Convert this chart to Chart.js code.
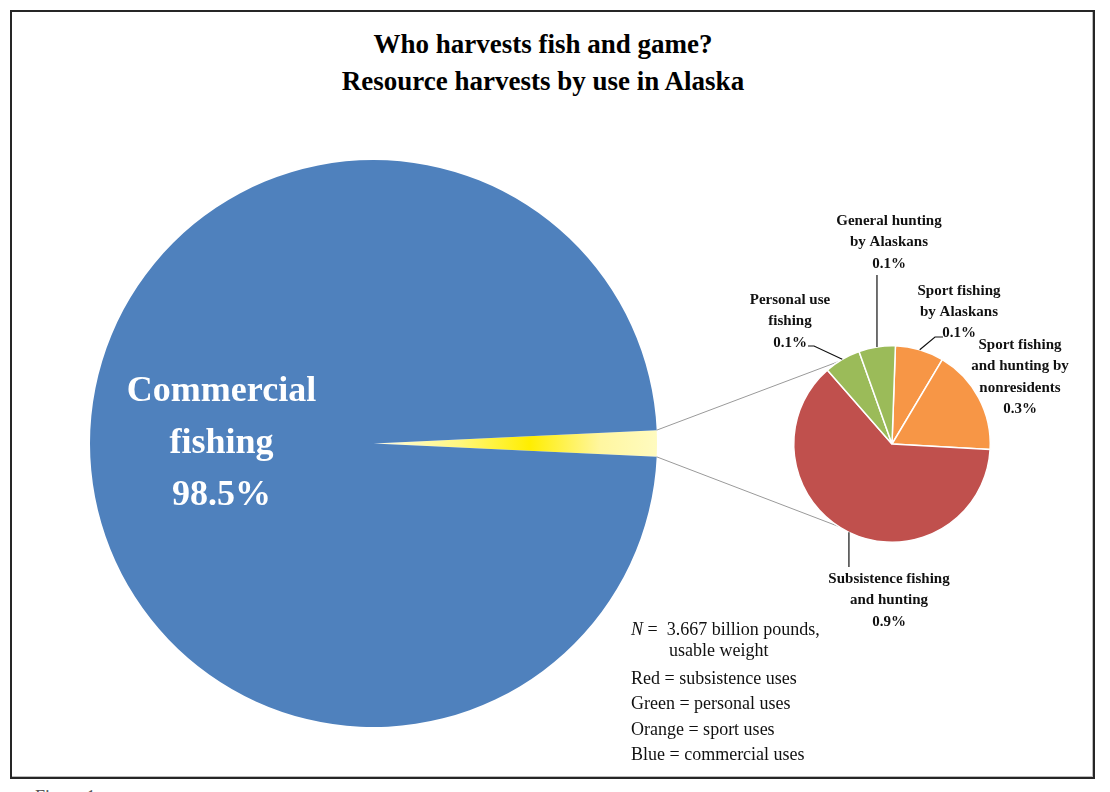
<!DOCTYPE html>
<html>
<head>
<meta charset="utf-8">
<script src="https://cdn.jsdelivr.net/npm/chart.js@4.4.0/dist/chart.umd.min.js"></script>
<style>
  body { margin: 0; background: #fff; font-family: "Liberation Serif", "DejaVu Serif", serif; }
  #page { position: relative; width: 1110px; height: 792px; overflow: hidden; }
  #frame { position: absolute; left: 10px; top: 10px; width: 1081px; height: 765px; border: 2px solid #262626; box-shadow: inset -1px -1px 0 #bbb; }
  #title { position: absolute; left: 0; top: 26px; width: 1086px; text-align: center; font-weight: bold; font-size: 27px; line-height: 37px; color: #000; }
  #note { position: absolute; left: 631px; top: 618px; font-size: 18px; color: #111; }
  #note div { height: 25.3px; line-height: 22px; }
  #fig { position: absolute; left: 35px; top: 787px; font-size: 18px; color: #555; }
  canvas { position: absolute; }
</style>
</head>
<body>
<div id="page">
  <div id="frame"></div>
  <div id="title">Who harvests fish and game?<br>Resource harvests by use in Alaska</div>
  <canvas id="bigPie" width="567" height="567" style="left:90px;top:160px"></canvas>
  <canvas id="smallPie" width="450" height="440" style="left:640px;top:200px"></canvas>
  <div id="note">
    <div style="height:21px"><i>N</i> =&nbsp; 3.667 billion pounds,</div>
    <div style="padding-left:38px;height:28px">usable weight</div>
    <div>Red = subsistence uses</div>
    <div>Green = personal uses</div>
    <div>Orange = sport uses</div>
    <div>Blue = commercial uses</div>
  </div>
  <div id="fig">Figure 1.</div>
</div>
<script>
// main pie: commercial vs everything else (percent of total harvest)
const main_labels = ["Other uses", "Commercial fishing"];
const main_values = [1.5, 98.5];

// breakdown of the 1.5% (percent of total harvest)
const detail_labels = [
  ["Sport fishing", "by Alaskans"],
  ["Sport fishing", "and hunting by", "nonresidents"],
  ["Subsistence fishing", "and hunting"],
  ["Personal use", "fishing"],
  ["General hunting", "by Alaskans"]
];
const detail_values = [0.12, 0.26, 0.94, 0.09, 0.09];
const detail_colors = ["#F79646", "#F79646", "#C0504D", "#9BBB59", "#9BBB59"];

const BIG_LEFT = 90, BIG_TOP = 160, SMALL_LEFT = 640, SMALL_TOP = 200;

// label placement for the small pie, page coords (x = text centre, y = first line)
// leader: extra points after the slice mid point
var labelSpots = [
  {x: 959, y: 291, pctX: 959, pctY: 333, leader: [[935, 337], [943, 337]]},
  {x: 1020, y: 345, leader: null},
  {x: 889, y: 579, leader: "down", endY: 567},
  {x: 790, y: 300, leader: [[814, 346], [808, 346]]},
  {x: 889, y: 221, leader: "up", endY: 275}
];

function pct(v) { return v.toFixed(1) + "%"; }

// yellow wedge gets a gradient, the rest is plain blue
var mainFill = function(c) {
  if (c.dataIndex !== 0) return "#4F81BD";
  var chart = c.chart, area = chart.chartArea;
  if (!area) return "#FFF38A";
  var cx = (area.left + area.right) / 2;
  var g = chart.ctx.createLinearGradient(cx, 0, area.right, 0);
  g.addColorStop(0, "#FFFDE8");
  g.addColorStop(0.3, "#FFF780");
  g.addColorStop(0.55, "#FFEE00");
  g.addColorStop(0.8, "#FFF6A0");
  g.addColorStop(1, "#FFFBC0");
  return g;
};

var bigText = {
  id: "bigText",
  afterDatasetsDraw: function(chart) {
    var arc = chart.getDatasetMeta(0).data[1];
    var ctx = chart.ctx;
    ctx.save();
    ctx.fillStyle = "#fff";
    ctx.font = "bold 36px 'Liberation Serif'";
    ctx.textAlign = "center";
    ctx.textBaseline = "middle";
    var lines = ["Commercial", "fishing", pct(main_values[1])];
    lines.forEach(function(t, i) {
      ctx.fillText(t, arc.x - 152, arc.y - 52 + i * 52);
    });
    ctx.restore();
  }
};

var bigChart = new Chart(document.getElementById("bigPie").getContext("2d"), {
  type: "pie",
  data: {
    labels: main_labels,
    datasets: [{
      data: main_values,
      backgroundColor: mainFill,
      borderWidth: 0
    }]
  },
  options: {
    responsive: false,
    animation: false,
    rotation: 90 - main_values[0] * 3.6 / 2,
    layout: { padding: 0 },
    plugins: { legend: { display: false }, tooltip: { enabled: false } }
  },
  plugins: [bigText]
});

var connectors = {
  id: "connectors",
  beforeDatasetsDraw: function(chart) {
    var ctx = chart.ctx;
    var small = chart.getDatasetMeta(0).data[0];
    var big = bigChart.getDatasetMeta(0).data[0];
    var bx = big.x + BIG_LEFT - SMALL_LEFT, by = big.y + BIG_TOP - SMALL_TOP;
    var spread = 57 * Math.PI / 180;
    var ends = [
      [big.startAngle, Math.PI + spread],
      [big.endAngle, Math.PI - spread]
    ];
    ctx.save();
    ctx.strokeStyle = "#9a9a9a";
    ctx.lineWidth = 1;
    ends.forEach(function(e) {
      ctx.beginPath();
      ctx.moveTo(bx + big.outerRadius * Math.cos(e[0]), by + big.outerRadius * Math.sin(e[0]));
      ctx.lineTo(small.x + small.outerRadius * Math.cos(e[1]), small.y + small.outerRadius * Math.sin(e[1]));
      ctx.stroke();
    });
    ctx.restore();
  },
  afterDatasetsDraw: function(chart) {
    var ctx = chart.ctx;
    var arcs = chart.getDatasetMeta(0).data;
    ctx.save();
    ctx.font = "bold 15px 'Liberation Serif'";
    ctx.textAlign = "center";
    ctx.textBaseline = "middle";
    ctx.fillStyle = "#111";
    ctx.strokeStyle = "#111";
    ctx.lineWidth = 1.2;
    arcs.forEach(function(arc, i) {
      var spot = labelSpots[i];
      var mid = (arc.startAngle + arc.endAngle) / 2;
      var mx = arc.x + arc.outerRadius * Math.cos(mid);
      var my = arc.y + arc.outerRadius * Math.sin(mid);
      if (spot.leader) {
        ctx.beginPath();
        ctx.moveTo(mx, my);
        if (spot.leader === "up" || spot.leader === "down") {
          ctx.lineTo(mx, spot.endY - SMALL_TOP);
        } else {
          spot.leader.forEach(function(p) { ctx.lineTo(p[0] - SMALL_LEFT, p[1] - SMALL_TOP); });
        }
        ctx.stroke();
      }
      var lines = detail_labels[i];
      var y = spot.y - SMALL_TOP;
      lines.forEach(function(t, k) {
        ctx.fillText(t, spot.x - SMALL_LEFT, y + k * 21.5);
      });
      if (spot.pctX) {
        ctx.fillText(pct(detail_values[i]), spot.pctX - SMALL_LEFT, spot.pctY - SMALL_TOP);
      } else {
        ctx.fillText(pct(detail_values[i]), spot.x - SMALL_LEFT, y + lines.length * 21.5);
      }
    });
    ctx.restore();
  }
};

var smallChart = new Chart(document.getElementById("smallPie").getContext("2d"), {
  type: "pie",
  data: {
    labels: detail_labels.map(function(l) { return l.join(" "); }),
    datasets: [{
      data: detail_values,
      backgroundColor: detail_colors,
      borderColor: "#ffffff",
      borderWidth: 1.5
    }]
  },
  options: {
    responsive: false,
    animation: false,
    rotation: 2,
    layout: { padding: { left: 153, right: 99, top: 145, bottom: 97 } },
    plugins: { legend: { display: false }, tooltip: { enabled: false } }
  },
  plugins: [connectors]
});
</script>
</body>
</html>
